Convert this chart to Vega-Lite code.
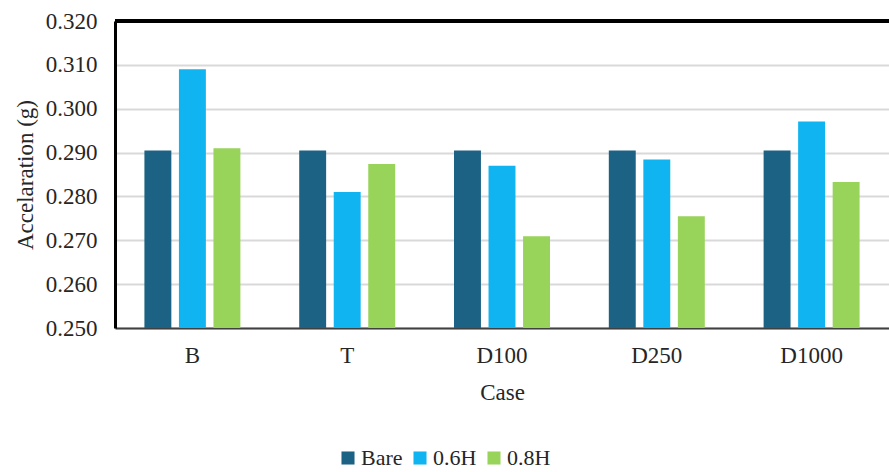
{
  "$schema": "https://vega.github.io/schema/vega-lite/v6.json",
  "autosize": "none",
  "width": 774,
  "height": 307,
  "padding": {"left": 115, "top": 21, "right": 0, "bottom": 144},
  "background": "white",
  "data": {"values": [
    {"case": "B", "series": "Bare", "value": 0.2905},
    {"case": "B", "series": "0.6H", "value": 0.309},
    {"case": "B", "series": "0.8H", "value": 0.291},
    {"case": "T", "series": "Bare", "value": 0.2905},
    {"case": "T", "series": "0.6H", "value": 0.281},
    {"case": "T", "series": "0.8H", "value": 0.2874},
    {"case": "D100", "series": "Bare", "value": 0.2905},
    {"case": "D100", "series": "0.6H", "value": 0.287},
    {"case": "D100", "series": "0.8H", "value": 0.2709},
    {"case": "D250", "series": "Bare", "value": 0.2905},
    {"case": "D250", "series": "0.6H", "value": 0.2884},
    {"case": "D250", "series": "0.8H", "value": 0.2755},
    {"case": "D1000", "series": "Bare", "value": 0.2905},
    {"case": "D1000", "series": "0.6H", "value": 0.2971},
    {"case": "D1000", "series": "0.8H", "value": 0.2833}
  ]},
  "layer": [
    {
      "mark": {"type": "bar", "clip": true},
      "encoding": {
        "x": {
          "field": "case", "type": "nominal", "sort": ["B", "T", "D100", "D250", "D1000"],
          "title": "Case",
          "scale": {"paddingInner": 0.38, "paddingOuter": 0.19},
          "axis": {"labelAngle": 0, "ticks": false, "domain": true, "domainColor": "#404040", "domainWidth": 2, "labelPadding": 16, "titlePadding": 14,
                   "labelFont": "Liberation Serif", "labelFontSize": 23, "labelColor": "#262626",
                   "titleFont": "Liberation Serif", "titleFontSize": 23, "titleFontWeight": "normal", "titleColor": "#262626"}
        },
        "xOffset": {"field": "series", "type": "nominal", "sort": ["Bare", "0.6H", "0.8H"], "scale": {"paddingInner": 0.22}},
        "y": {
          "field": "value", "type": "quantitative", "title": "Accelaration (g)",
          "scale": {"domain": [0.25, 0.32], "zero": false, "nice": false},
          "axis": {"values": [0.25, 0.26, 0.27, 0.28, 0.29, 0.3, 0.31, 0.32], "format": ".3f", "ticks": false,
                   "domain": true, "domainColor": "#000000", "domainWidth": 3,
                   "grid": true, "gridColor": "#d9d9d9", "gridWidth": 2, "labelPadding": 18,
                   "labelFont": "Liberation Serif", "labelFontSize": 23, "labelColor": "#262626",
                   "titleFont": "Liberation Serif", "titleFontSize": 23, "titleFontWeight": "normal", "titleColor": "#262626", "titlePadding": 8}
        },
        "color": {
          "field": "series", "type": "nominal", "sort": ["Bare", "0.6H", "0.8H"],
          "scale": {"domain": ["Bare", "0.6H", "0.8H"], "range": ["#1b6284", "#10b4f0", "#98d35a"]},
          "legend": {"title": null, "orient": "none", "direction": "horizontal", "legendX": 222, "legendY": 426,
                     "symbolType": "square", "symbolSize": 170, "symbolStrokeWidth": 0, "symbolOpacity": 1,
                     "labelFont": "Liberation Serif", "labelFontSize": 22, "labelColor": "#262626", "labelOffset": 2, "columnPadding": 6}
        }
      }
    },
    {
      "mark": {"type": "rule", "color": "#000000", "strokeWidth": 3},
      "encoding": {"y": {"datum": 0.32}}
    }
  ],
  "config": {
    "font": "Liberation Serif",
    "axis": {"labelFont": "Liberation Serif", "titleFont": "Liberation Serif"},
    "legend": {"labelFont": "Liberation Serif"},
    "view": {"stroke": null}
  }
}
